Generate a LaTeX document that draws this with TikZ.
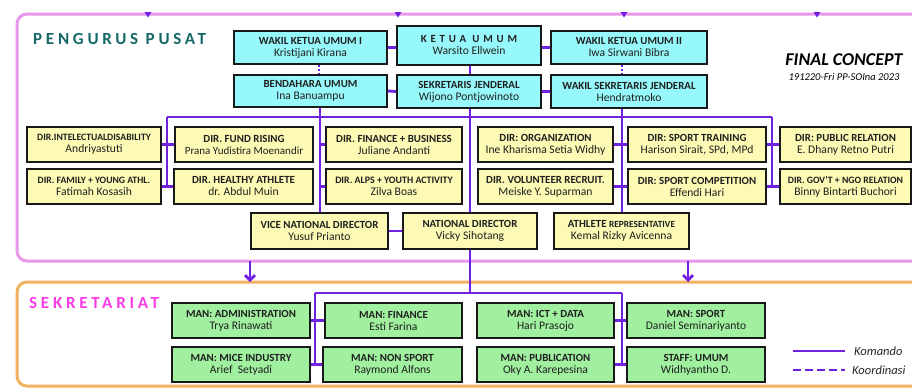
\documentclass[tikz,border=0pt]{standalone}
\usepackage{fontspec}
\setmainfont{Carlito}
\usetikzlibrary{arrows.meta}
\definecolor{cyanfill}{RGB}{150,248,250}
\definecolor{yelfill}{RGB}{252,250,180}
\definecolor{grnfill}{RGB}{160,240,160}
\definecolor{linkpurple}{RGB}{112,32,224}
\definecolor{pinkframe}{RGB}{232,152,236}
\definecolor{orangeframe}{RGB}{240,178,96}
\definecolor{tealtxt}{RGB}{20,104,104}
\definecolor{magtxt}{RGB}{250,60,230}
\newcommand{\tfont}{\fontsize{10.9}{13}\selectfont\bfseries}
\newcommand{\nfont}{\fontsize{11.6}{13}\selectfont}
\newcommand{\mkbox}[8]{\node[#6, minimum width={#4pt-#2pt}, minimum height={#5pt-#3pt}] (#1) at ({(#2+#4)/2},{(#3+#5)/2}) {{\tfont #7}\\{\nfont #8}};}
\tikzset{
  orgbox/.style={draw=black!90, line width=1.7pt, inner sep=0pt, align=center, text=black!88},
  cyanbox/.style={orgbox, fill=cyanfill},
  yelbox/.style={orgbox, fill=yelfill},
  grnbox/.style={orgbox, fill=grnfill},
  link/.style={draw=linkpurple, line width=2.8pt},
  coordlink/.style={draw=linkpurple, line width=1.8pt, dash pattern=on 2pt off 2pt},
  frame/.style={line width=3pt, rounded corners=10pt},
  legtxt/.style={anchor=west, font=\itshape\fontsize{12.5}{14}\selectfont, text=black!85, inner sep=0pt}
}
\begin{document}
\begin{tikzpicture}[x=1pt,y=-1pt]
\useasboundingbox (0,0) rectangle (912,389);
\clip (0,0) rectangle (912,389);
\fill[white] (0,0) rectangle (912,389);
% frames
\draw[frame, draw=pinkframe] (17,14) rectangle (940,261);
\draw[frame, draw=orangeframe] (17,282) rectangle (940,386);
% top markers
\foreach \mx in {148,398,624,817} {\fill[linkpurple] (\mx-3.5,12) -- (\mx+3.5,12) -- (\mx,17.5) -- cycle;}
% titles
\node[anchor=base west, inner sep=0pt, text=tealtxt, font=\fontsize{17}{20}\selectfont\bfseries\addfontfeature{LetterSpace=22}] (pp) at (33,44) {PENGURUS PUSAT};
\node[anchor=base west, inner sep=0pt, text=magtxt, font=\fontsize{17}{20}\selectfont\bfseries\addfontfeature{LetterSpace=22}] (sk) at (29,308) {SEKRETARIAT};
\node[inner sep=0pt, font=\fontsize{18}{20}\selectfont\bfseries\itshape] (fc) at (844,60) {FINAL CONCEPT};
\node[inner sep=0pt, font=\fontsize{10.5}{12}\selectfont\itshape] (fcs) at (844,77) {191220-Fri PP-SOIna 2023};
% cyan boxes
\mkbox{wk1}{234}{31}{387}{64}{cyanbox}{WAKIL KETUA UMUM I}{Kristijani Kirana}
\mkbox{ku}{397}{26}{541}{65}{cyanbox}{\addfontfeature{LetterSpace=35}KETUA UMUM}{Warsito Ellwein}
\mkbox{wk2}{551}{31}{707}{64}{cyanbox}{WAKIL KETUA UMUM II}{Iwa Sirwani Bibra}
\mkbox{bend}{234}{75}{387}{107}{cyanbox}{BENDAHARA UMUM}{Ina Banuampu}
\mkbox{sj}{397}{75}{541}{108}{cyanbox}{SEKRETARIS JENDERAL}{Wijono Pontjowinoto}
\mkbox{wsj}{551}{75}{707}{108}{cyanbox}{WAKIL SEKRETARIS JENDERAL}{Hendratmoko}
% yellow boxes row A
\mkbox{intel}{27}{127}{161}{162}{yelbox}{\fontsize{9.7}{13}\selectfont DIR.INTELECTUALDISABILITY}{Andriyastuti}
\mkbox{fund}{175}{127}{313}{162}{yelbox}{DIR. FUND RISING}{\fontsize{11}{13}\selectfont Prana Yudistira Moenandir}
\mkbox{fin}{326}{127}{462}{162}{yelbox}{DIR. FINANCE + BUSINESS}{Juliane Andanti}
\mkbox{org}{478}{127}{613}{162}{yelbox}{DIR: ORGANIZATION}{Ine Kharisma Setia Widhy}
\mkbox{st}{628}{127}{766}{162}{yelbox}{DIR: SPORT TRAINING}{Harison Sirait, SPd, MPd}
\mkbox{pr}{780}{127}{911}{162}{yelbox}{DIR: PUBLIC RELATION}{E. Dhany Retno Putri}
% yellow boxes row B
\mkbox{fam}{27}{169}{161}{204}{yelbox}{\fontsize{9.7}{13}\selectfont DIR. FAMILY + YOUNG ATHL.}{Fatimah Kosasih}
\mkbox{healthy}{174}{169}{313}{204}{yelbox}{DIR. HEALTHY ATHLETE}{dr. Abdul Muin}
\mkbox{alps}{326}{169}{462}{204}{yelbox}{\fontsize{9.9}{13}\selectfont DIR. ALPS + YOUTH ACTIVITY}{Zilva Boas}
\mkbox{vol}{478}{169}{613}{204}{yelbox}{DIR. VOLUNTEER RECRUIT.}{Meiske Y. Suparman}
\mkbox{sc}{628}{169}{766}{204}{yelbox}{DIR: SPORT COMPETITION}{Effendi Hari}
\mkbox{gov}{780}{169}{911}{204}{yelbox}{\fontsize{9.7}{13}\selectfont DIR. GOV'T + NGO RELATION}{Binny Bintarti Buchori}
% yellow boxes row C
\mkbox{vnd}{251}{213}{388}{249}{yelbox}{VICE NATIONAL DIRECTOR}{Yusuf Prianto}
\mkbox{nd}{403}{213}{537}{249}{yelbox}{NATIONAL DIRECTOR}{Vicky Sihotang}
\mkbox{ath}{554}{213}{689}{249}{yelbox}{ATHLETE {\fontsize{9.4}{13}\selectfont REPRESENTATIVE}}{Kemal Rizky Avicenna}
% green boxes
\mkbox{adm}{172}{303}{310}{338}{grnbox}{MAN: ADMINISTRATION}{Trya Rinawati}
\mkbox{mfin}{325}{303}{462}{338}{grnbox}{MAN: FINANCE}{Esti Farina}
\mkbox{ict}{477}{303}{614}{338}{grnbox}{MAN: ICT + DATA}{Hari Prasojo}
\mkbox{msport}{627}{303}{765}{338}{grnbox}{MAN: SPORT}{Daniel Seminariyanto}
\mkbox{mice}{172}{347}{310}{382}{grnbox}{MAN: MICE INDUSTRY}{Arief\ \ Setyadi}
\mkbox{nons}{323}{347}{462}{382}{grnbox}{MAN: NON SPORT}{Raymond Alfons}
\mkbox{pub}{477}{347}{614}{382}{grnbox}{MAN: PUBLICATION}{Oky A. Karepesina}
\mkbox{staff}{627}{347}{765}{382}{grnbox}{STAFF: UMUM}{Widhyantho D.}
% coordinates
\coordinate (hL) at (167,117);
\coordinate (hR) at (772,117);
\coordinate (x2) at (320,0);
\coordinate (x3) at (470,0);
\coordinate (x4) at (622,0);
\coordinate (xd1) at (319,0);
\coordinate (sL) at (315,293);
\coordinate (sR) at (622,293);
\coordinate (sM) at (470,293);
% top connectors
\draw[link] (wk1.east) -- (wk1.east -| ku.west);
\draw[link] (wk2.west -| ku.east) -- (wk2.west);
\draw[link] (ku.south -| x3) -- (sj.north -| x3);
\draw[link] (bend.east) -- (sj.west);
\draw[link] (sj.east) -- (wsj.west);
\draw[coordlink] (wk1.south -| xd1) -- (bend.north -| xd1);
\draw[coordlink] (wk2.south -| x4) -- (wsj.north -| x4);
% main bus
\draw[link] (hL) -- (hR);
\draw[link] (hL) -- (hL |- fam.east);
\draw[link] (intel.east) -- (fund.west);
\draw[link] (fam.east) -- (healthy.west);
\draw[link] (bend.south -| x2) -- (vnd.north -| x2);
\draw[link] (fin.west -| x2) -- (fin.west);
\draw[link] (alps.west -| x2) -- (alps.west);
\draw[link] (sj.south -| x3) -- (nd.north -| x3);
\draw[link] (wsj.south -| x4) -- (ath.north -| x4);
\draw[link] (org.east) -- (st.west);
\draw[link] (vol.east) -- (sc.west);
\draw[link] (hR) -- (hR |- gov.west);
\draw[link] (st.east) -- (pr.west);
\draw[link] (sc.east) -- (gov.west);
\draw[link] (vnd.east) -- (vnd.east -| nd.west);
% sekretariat
\draw[link] (nd.south -| x3) -- (sM);
\draw[link] (sL) -- (sR);
\draw[link] (sL) -- (sL |- mice.east);
\draw[link] (sR) -- (sR |- pub.east);
\draw[link] (adm.east) -- (mfin.west);
\draw[link] (mice.east) -- (nons.west);
\draw[link] (ict.east) -- (msport.west);
\draw[link] (pub.east) -- (staff.west);
% arrows between frames
\coordinate (a1s) at (250,261);
\coordinate (a1e) at (250,282);
\coordinate (a2s) at (688,261);
\coordinate (a2e) at (688,282);
\draw[link, -{Straight Barb[length=5pt,width=10pt]}] (a1s) -- (a1e);
\draw[link, -{Straight Barb[length=5pt,width=10pt]}] (a2s) -- (a2e);
% legend
\coordinate (k1) at (793,351);
\coordinate (k2) at (845,351);
\coordinate (c1) at (793,370);
\coordinate (c2) at (845,370);
\draw[link] (k1) -- (k2);
\draw[link, dash pattern=on 8pt off 4pt] (c1) -- (c2);
\node[legtxt] (kt) at (854,351) {Komando};
\node[legtxt] (ct) at (852,370) {Koordinasi};
\end{tikzpicture}
\end{document}
